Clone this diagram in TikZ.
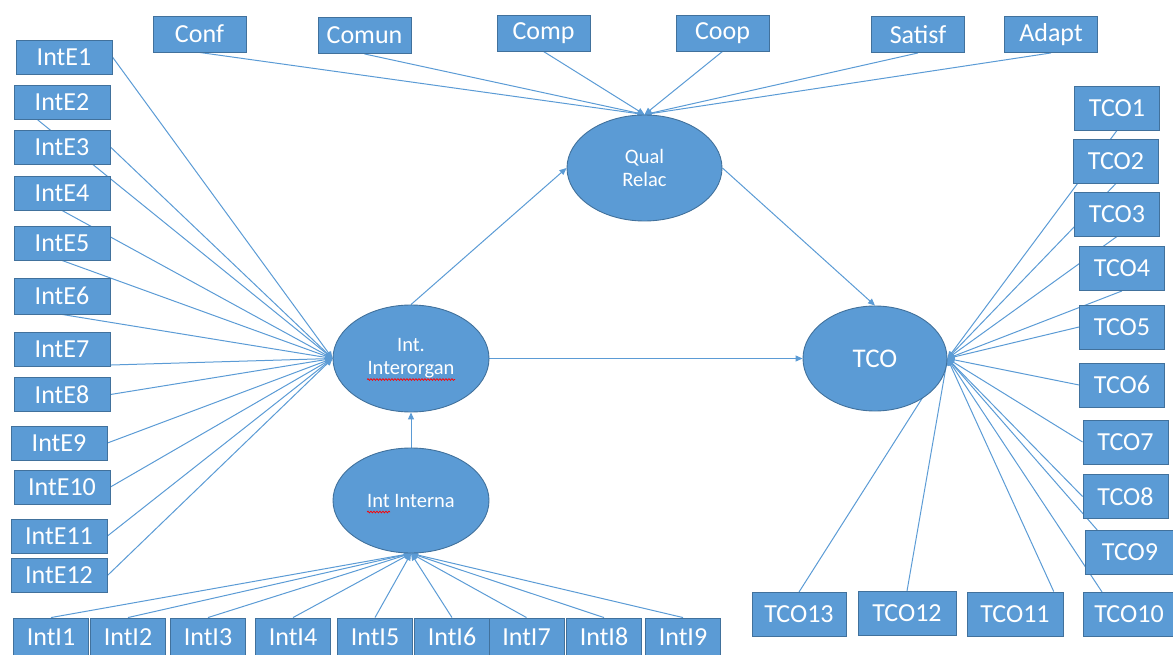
\documentclass[tikz,border=0pt]{standalone}
\usepackage{fontspec}
\setmainfont{Carlito}
\usetikzlibrary{arrows.meta,calc,backgrounds,shapes.geometric,decorations.pathmorphing}
\definecolor{boxblue}{HTML}{5B9BD5}
\definecolor{boxedge}{HTML}{41719C}
\definecolor{linkblue}{HTML}{5B9BD5}
\begin{document}
\begin{tikzpicture}[x=1pt,y=-1pt,
  ind/.style={draw=boxedge, line width=0.9pt, fill=boxblue, text=white,
    inner sep=0pt, font=\fontsize{26}{28}\selectfont},
  lat/.style={ellipse, draw=boxedge, line width=0.9pt, fill=boxblue, text=white,
    inner sep=0pt, align=center, font=\fontsize{20.5}{23}\selectfont},
  link/.style={draw=linkblue, line width=1pt, -{Triangle[length=7pt,width=6pt]}},
  spellwave/.style={draw=red, line width=0.7pt, decorate,
    decoration={snake, amplitude=0.9pt, segment length=3pt}}]
\useasboundingbox (0,0) rectangle (1173,655);
\clip (0,0) rectangle (1173,655);

% latent constructs
\node[lat, minimum width=156pt, minimum height=107pt] (interorg) at (411,358.5) {Int.\\Interorgan};
\node[lat, minimum width=156pt, minimum height=105pt] (interna) at (411,500.5) {Int Interna};
\node[lat, minimum width=155pt, minimum height=106pt] (qual) at (644.5,168) {Qual\\Relac};
\node[lat, minimum width=144pt, minimum height=105pt, font=\fontsize{27}{30}\selectfont] (tco) at (875,358.5) {TCO};

% spell-checker underlines under two words
\draw[spellwave] ($(interorg.center)+(-44,21)$) -- ($(interorg.center)+(44,21)$);
\draw[spellwave] ($(interna.center)+(-44,11.5)$) -- ($(interna.center)+(-21,11.5)$);

% relationship quality indicators
\begin{scope}[every node/.style={ind, minimum width=93pt, minimum height=36pt}]
\node (conf) at (199.5,34) {Conf};
\node (comun) at (364.5,35.5) {Comun};
\node (comp) at (543.5,33) {Comp};
\node (coop) at (722.5,33) {Coop};
\node (satisf) at (918,34.5) {Satisf};
\node (adapt) at (1051,34.5) {Adapt};
\end{scope}

% external integration indicators
\begin{scope}[every node/.style={ind, minimum width=96pt, minimum height=34pt}]
\node (e1) at (64,57) {IntE1};
\node (e2) at (62,102.5) {IntE2};
\node (e3) at (62,147) {IntE3};
\node (e4) at (62,193) {IntE4};
\node (e5) at (62,243) {IntE5};
\node[minimum height=36pt] (e6) at (62,296) {IntE6};
\node (e7) at (62,349) {IntE7};
\node (e8) at (62,394.5) {IntE8};
\node (e9) at (59,443) {IntE9};
\node (e10) at (62,487) {IntE10};
\node (e11) at (59,536) {IntE11};
\node (e12) at (59,575.5) {IntE12};
\end{scope}

% internal integration indicators
\begin{scope}[every node/.style={ind, minimum width=75pt, minimum height=38pt}]
\node (i1) at (51,637) {IntI1};
\node (i2) at (128,637) {IntI2};
\node (i3) at (208,637) {IntI3};
\node (i4) at (293,637) {IntI4};
\node (i5) at (375,637) {IntI5};
\node (i6) at (452,637) {IntI6};
\node (i7) at (526.5,637) {IntI7};
\node (i8) at (604,637) {IntI8};
\node (i9) at (683,637) {IntI9};
\end{scope}

% total cost indicators
\begin{scope}[every node/.style={ind, minimum width=85pt, minimum height=44pt}]
\node (t1) at (1117,108) {TCO1};
\node (t2) at (1116,161) {TCO2};
\node (t3) at (1117,214) {TCO3};
\node (t4) at (1122,268.5) {TCO4};
\node (t5) at (1122,327) {TCO5};
\node (t6) at (1122,385) {TCO6};
\node (t7) at (1125.5,442) {TCO7};
\node (t8) at (1125.5,496.5) {TCO8};
\node[minimum width=90pt] (t9) at (1130,552.5) {TCO9};
\node[minimum width=92pt] (t10) at (1129,614.5) {TCO10};
\node[minimum width=96pt] (t11) at (1015,614) {TCO11};
\node[minimum width=98pt] (t12) at (907,613.5) {TCO12};
\node[minimum width=94pt] (t13) at (799,614.5) {TCO13};
\end{scope}

% connectors, kept behind the boxes
\begin{scope}[on background layer]
\foreach \s in {conf,comun,comp,coop,satisf,adapt}
  \draw[link] (\s.south) -- (qual.north);

\foreach \s in {e1,e3,e8,e9,e10,e11,e12}
  \draw[link] (\s.east) -- (interorg.west);
\foreach \s in {e4,e5,e6,e7}
  \draw[link] (\s.south) -- (interorg.west);
\draw[link] ($(e2.south)!0.5!(e2.south west)$) -- (interorg.west);

\foreach \s in {i1,i2,i3,i4,i5,i6,i7,i8,i9}
  \draw[link] (\s.north) -- (interna.south);

\foreach \s in {t1,t2,t3,t4}
  \draw[link] (\s.south) -- (tco.east);
\foreach \s in {t5,t6,t7,t8}
  \draw[link] (\s.west) -- (tco.east);
\foreach \s in {t12,t13}
  \draw[link] (\s.north) -- (tco.east);
\draw[link] ($(t9.north west)!0.14!(t9.north east)$) -- (tco.east);
\draw[link] ($(t10.north west)!0.21!(t10.north east)$) -- (tco.east);
\draw[link] ($(t11.north west)!0.9!(t11.north east)$) -- (tco.east);

\draw[link] (interna.north) -- (interorg.south);
\draw[link] (interorg.north) -- (qual.west);
\draw[link] (interorg.east) -- (tco.west);
\draw[link] (qual.east) -- (tco.north);
\end{scope}
\end{tikzpicture}
\end{document}
